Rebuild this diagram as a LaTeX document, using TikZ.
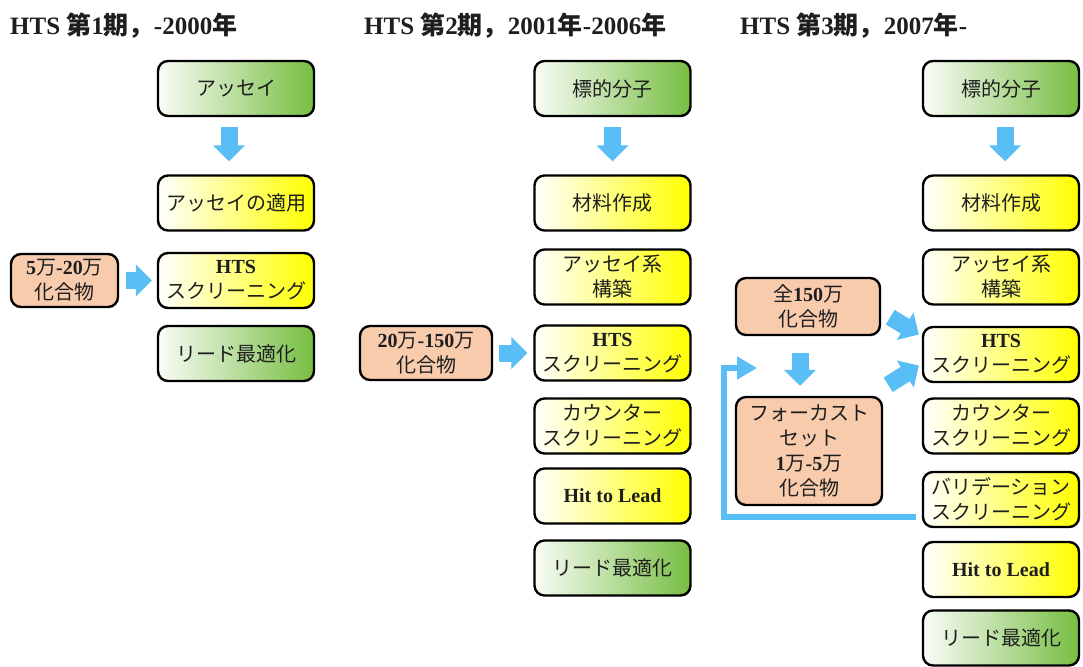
\documentclass[tikz,border=0pt]{standalone}
\usepackage{fontspec}
\setmainfont{Liberation Serif}
\newfontfamily\jp{Noto Sans CJK JP}
\usetikzlibrary{arrows.meta,calc}
\newcommand\J[1]{{\jp #1}}
\newcommand\B[1]{{\bfseries #1}}
\definecolor{grn}{RGB}{118,190,66}
\definecolor{yel}{RGB}{255,255,0}
\definecolor{org}{RGB}{248,203,173}
\definecolor{blu}{RGB}{88,190,245}
\definecolor{txt}{RGB}{30,30,30}
\begin{document}
\begin{tikzpicture}[x=1pt,y=-1pt,
  box/.style={rectangle, rounded corners=10pt, draw=black, line width=2.4pt,
    minimum width=156pt, minimum height=55pt, inner sep=0pt, align=center,
    text=txt, font=\fontsize{20}{25}\selectfont},
  gbox/.style={box, left color=grn!4, right color=grn},
  ybox/.style={box, left color=white, right color=yel},
  obox/.style={box, fill=org},
  barrow/.style={draw=blu, line width=17pt, -{Triangle[width=31pt,length=16pt]}},
  fback/.style={draw=blu, line width=6pt, -{Triangle[width=22pt,length=20pt]}},
  title/.style={anchor=base west, inner sep=0pt, text=txt, font=\fontsize{25}{25}\selectfont\bfseries}
]
\useasboundingbox[fill=white] (0,0) rectangle (1083,666);

% titles
\node[title] (t1) at (10,35) {HTS \J{第}1\J{期，}-2000\J{年}};
\node[title] (t2) at (364,35) {HTS \J{第}2\J{期，}2001\J{年}-2006\J{年}};
\node[title] (t3) at (740,35) {HTS \J{第}3\J{期，}2007\J{年}-};

% column 1
\node[gbox] (a1) at (236,88.5) {\J{アッセイ}};
\node[ybox] (a2) at (236,203) {\J{アッセイの適用}};
\node[ybox] (a3) at (236,280.5) {\B{HTS}\\\J{スクリーニング}};
\node[gbox] (a4) at (236,353.5) {\J{リード最適化}};
\node[obox, minimum width=107pt, minimum height=53pt] (a0) at (64.5,280.5)
  {\B{5}\J{万}\B{-20}\J{万}\\\J{化合物}};
\draw[barrow] ($(a1.south)+(-7,10)$) -- ($(a2.north)+(-7,-13)$);
\draw[barrow] ($(a0.east)+(7,0)$) -- ($(a3.west)+(-5,0)$);

% column 2
\node[gbox] (b1) at (612.5,88.5) {\J{標的分子}};
\node[ybox] (b2) at (612.5,203) {\J{材料作成}};
\node[ybox] (b3) at (612.5,277) {\J{アッセイ系}\\\J{構築}};
\node[ybox] (b4) at (612.5,353) {\B{HTS}\\\J{スクリーニング}};
\node[ybox] (b5) at (612.5,426) {\J{カウンター}\\\J{スクリーニング}};
\node[ybox] (b6) at (612.5,496) {\B{Hit to Lead}};
\node[gbox] (b7) at (612.5,568) {\J{リード最適化}};
\node[obox, minimum width=132pt, minimum height=54pt] (b0) at (426,353)
  {\B{20}\J{万}\B{-150}\J{万}\\\J{化合物}};
\draw[barrow] ($(b1.south)+(0,10)$) -- ($(b2.north)+(0,-13)$);
\draw[barrow] ($(b0.east)+(6,0)$) -- ($(b4.west)+(-6,0)$);

% column 3
\node[gbox] (c1) at (1001,88.5) {\J{標的分子}};
\node[ybox] (c2) at (1001,203) {\J{材料作成}};
\node[ybox] (c3) at (1001,277) {\J{アッセイ系}\\\J{構築}};
\node[ybox] (c4) at (1001,354.5) {\B{HTS}\\\J{スクリーニング}};
\node[ybox] (c5) at (1001,426) {\J{カウンター}\\\J{スクリーニング}};
\node[ybox] (c6) at (1001,499.5) {\J{バリデーション}\\\J{スクリーニング}};
\node[ybox] (c7) at (1001,569.5) {\B{Hit to Lead}};
\node[gbox] (c8) at (1001,638) {\J{リード最適化}};
\node[obox, minimum width=144pt, minimum height=57pt] (c0) at (808,306.5)
  {\J{全}\B{150}\J{万}\\\J{化合物}};
\node[obox, minimum width=146pt, minimum height=108pt] (cf) at (809,451)
  {\J{フォーカスト}\\\J{セット}\\\B{1}\J{万}\B{-5}\J{万}\\\J{化合物}};
\draw[barrow] ($(c1.south)+(4,10)$) -- ($(c2.north)+(4,-13)$);
\draw[barrow] ($(c0.south)+(-8,17)$) -- ($(cf.north)+(-9,-10)$);
\draw[barrow] ($(c0.south east)+(9,-19)$) -- ($(c4.west)+(-3,-20)$);
\draw[barrow] ($(cf.north east)+(5,-11)$) -- ($(c4.west)+(-3,11)$);
\coordinate (fb) at ($(c6.west)+(-6,17)$);
\coordinate (fc) at (724,368);
\coordinate (fe) at (757,368);
\draw[fback] (fb) -| (fc) -- (fe);
\end{tikzpicture}
\end{document}
